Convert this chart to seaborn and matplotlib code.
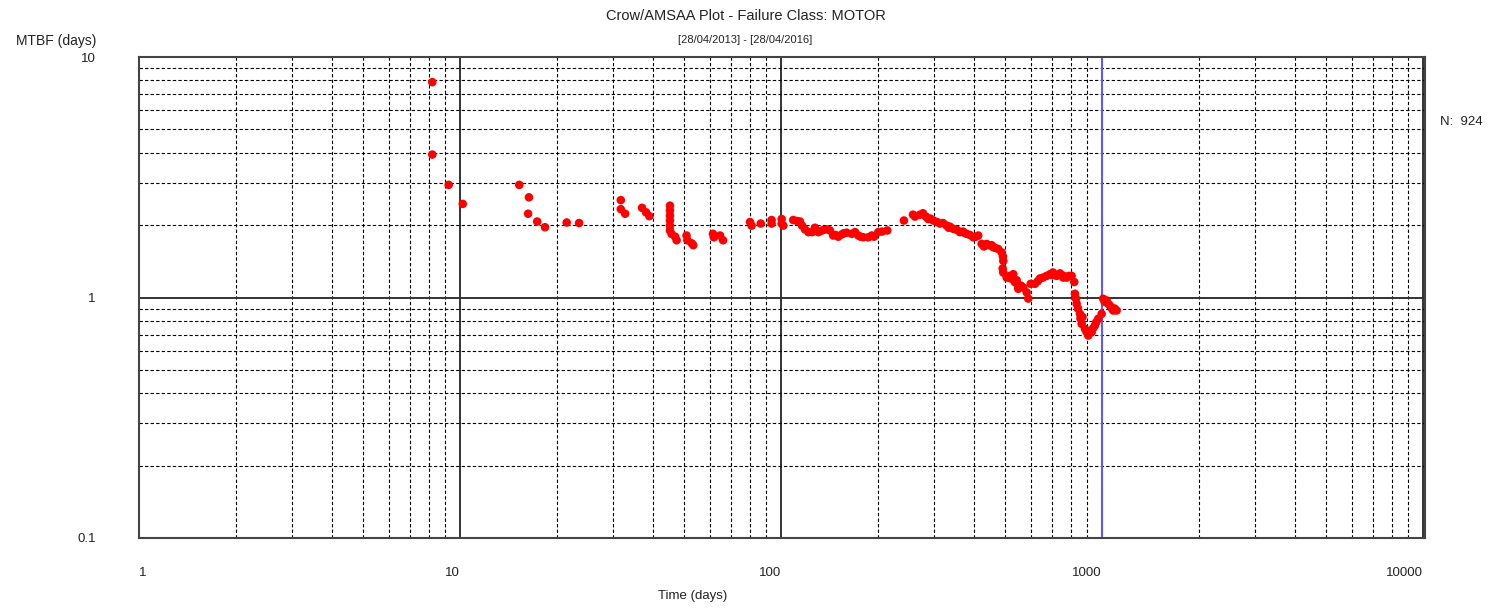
import numpy as np
import pandas as pd
import matplotlib
matplotlib.use("Agg")
import matplotlib.pyplot as plt
from matplotlib.ticker import LogLocator, NullFormatter, FixedLocator
import seaborn as sns

# ---------------- data ----------------
title = "Crow/AMSAA Plot - Failure Class: MOTOR"
subtitle = "[28/04/2013] - [28/04/2016]"
x_label = "Time (days)"
y_label = "MTBF (days)"
n_label = "N:  924"
x_ticks = [1, 10, 100, 1000, 10000]
x_tick_labels = ["1", "10", "100", "1000", "10000"]
y_ticks = [0.1, 1, 10]
y_tick_labels = ["0.1", "1", "10"]
cutoff_day = 1000

time_days = [
    8.20, 8.20, 9.22, 10.2, 15.3, 16.4, 16.3, 17.4, 18.4, 21.5,
    23.5, 31.7, 31.7, 32.7, 36.9, 38.0, 38.9, 45.1, 45.1, 45.1,
    45.1, 45.1, 45.1, 45.6, 46.8, 47.3, 50.8, 51.1, 52.7, 53.3,
    61.4, 61.8, 64.6, 66.0, 80.1, 81.0, 86.5, 93.5, 93.5, 100.5,
    100.5, 101.7, 109.2, 112.2, 114.6, 116.3, 118.8, 121.8, 124.9, 127.6,
    130.7, 135.5, 139.1, 142.1, 145.5, 150.8, 154.9, 160.2, 166.1, 170.1,
    174.1, 180.5, 187.1, 191.7, 201.0, 206.4, 214.4, 241.6, 257.8, 261.5,
    271.0, 277.0, 282.9, 287.7, 298.2, 306.2, 312.9, 319.7, 328.3, 336.1,
    344.2, 353.4, 361.1, 368.9, 378.8, 387.9, 397.2, 411.7, 421.9, 429.0,
    437.3, 444.6, 453.3, 464.2, 475.3, 487.0, 491.6, 492.7, 490.6, 492.7,
    504.9, 516.9, 529.3, 542.4, 545.5, 548.7, 559.4, 568.7, 582.7, 589.4,
    618.4, 631.8, 641.0, 654.9, 672.5, 688.7, 703.7, 722.6, 740.0, 757.6,
    776.3, 789.2, 804.6, 819.8, 823.9, 829.9, 834.1, 841.8, 854.1, 857.1,
    864.6, 885.1, 906.4, 928.8, 937.5, 951.0, 974.1, 997.9, 1009, 1034,
    1044, 1059, 1084, 1111, 1074,
    133.0, 148.0, 157.0, 177.0, 195.0, 292.0, 333.0, 372.0, 405.0, 458.0,
    520.0, 535.0, 600.0, 700.0, 760.0, 870.0, 895.0, 960.0, 1020, 1095,
]
mtbf_days = [
    7.86, 3.93, 2.94, 2.45, 2.94, 2.61, 2.23, 2.07, 1.96, 2.05,
    2.04, 2.54, 2.33, 2.23, 2.36, 2.26, 2.18, 2.41, 2.30, 2.19,
    2.09, 1.99, 1.90, 1.84, 1.79, 1.73, 1.81, 1.73, 1.68, 1.65,
    1.84, 1.78, 1.81, 1.73, 2.06, 1.99, 2.03, 2.10, 2.03, 2.12,
    2.03, 1.99, 2.10, 2.08, 2.07, 1.99, 1.92, 1.87, 1.87, 1.95,
    1.87, 1.91, 1.92, 1.90, 1.81, 1.79, 1.83, 1.86, 1.84, 1.87,
    1.81, 1.78, 1.78, 1.81, 1.87, 1.88, 1.90, 2.09, 2.21, 2.17,
    2.21, 2.24, 2.17, 2.12, 2.09, 2.06, 2.03, 2.04, 1.99, 1.97,
    1.93, 1.91, 1.87, 1.88, 1.84, 1.82, 1.78, 1.81, 1.67, 1.63,
    1.67, 1.65, 1.65, 1.61, 1.59, 1.54, 1.48, 1.42, 1.32, 1.27,
    1.21, 1.23, 1.25, 1.18, 1.13, 1.087, 1.12, 1.10, 1.05, 0.99,
    1.14, 1.17, 1.20, 1.21, 1.23, 1.25, 1.27, 1.23, 1.26, 1.21,
    1.21, 1.23, 1.23, 1.16, 1.036, 0.99, 0.942, 0.900, 0.855, 0.818,
    0.777, 0.741, 0.695, 0.717, 0.743, 0.765, 0.816, 0.855, 0.988, 0.972,
    0.944, 0.926, 0.883, 0.883, 0.900,
    1.89, 1.82, 1.85, 1.79, 1.79, 2.13, 1.95, 1.86, 1.79, 1.62,
    1.20, 1.16, 1.14, 1.24, 1.23, 0.83, 0.72, 0.79, 0.96, 0.90,
]

df = pd.DataFrame({"Time": time_days, "MTBF": mtbf_days})

# ---------------- style ----------------
sns.set_theme(style="white")
plt.rcParams["font.family"] = ["Liberation Sans", "DejaVu Sans"]
text_color = "#222222"

fig = plt.figure(figsize=(14.91, 6.08), dpi=100)
ax = fig.add_axes([139 / 1491, 1 - 538 / 608, (1425 - 139) / 1491, (538 - 57) / 608])

ax.set_xscale("log")
ax.set_yscale("log")
ax.set_xlim(1, 10150)
ax.set_ylim(0.1, 10)

# grid
ax.xaxis.set_minor_locator(LogLocator(base=10, subs=np.arange(2, 10)))
ax.yaxis.set_minor_locator(LogLocator(base=10, subs=np.arange(2, 10)))
ax.xaxis.set_minor_formatter(NullFormatter())
ax.yaxis.set_minor_formatter(NullFormatter())
ax.xaxis.set_major_locator(FixedLocator(x_ticks))
ax.yaxis.set_major_locator(FixedLocator(y_ticks))
ax.grid(which="minor", color="black", linestyle=(0, (3, 2)), linewidth=0.8)
ax.grid(which="major", color="#333333", linestyle="-", linewidth=1.4)
ax.set_axisbelow(True)

sns.scatterplot(data=df, x="Time", y="MTBF", ax=ax, color="#FF0000",
                s=38, edgecolor="none", linewidth=0, zorder=3, legend=False)

ax.axvline(cutoff_day, color="#5a5aff", linewidth=1.5, zorder=2.5)

for sp in ax.spines.values():
    sp.set_color("#444444")
    sp.set_linewidth(1.5)

ax.set_xticks(x_ticks)
ax.set_xticklabels(x_tick_labels)
ax.set_yticks(y_ticks)
ax.set_yticklabels(y_tick_labels)
ax.tick_params(which="both", length=0)
ax.tick_params(axis="x", pad=21, labelsize=9.5, labelcolor=text_color)
ax.tick_params(axis="y", pad=31, labelsize=9.5, labelcolor=text_color)
for i, lab in enumerate(ax.get_xticklabels()):
    lab.set_ha("left" if i == 0 else "right")
ax.set_xlabel("")
ax.set_ylabel("")

fig.text(0.5, 1 - 16 / 608, title, ha="center", va="center", fontsize=10.5, color=text_color)
fig.text(0.5, 1 - 40 / 608, subtitle, ha="center", va="center", fontsize=8, color=text_color)
fig.text(693 / 1491, 1 - 596 / 608, x_label, ha="center", va="center", fontsize=9.5, color=text_color)
fig.text(96 / 1491, 1 - 41 / 608, y_label, ha="right", va="center", fontsize=10, color=text_color)
fig.text(1440 / 1491, 1 - 122 / 608, n_label, ha="left", va="center", fontsize=9.5, color=text_color)

fig.savefig("out.png", dpi=100)
